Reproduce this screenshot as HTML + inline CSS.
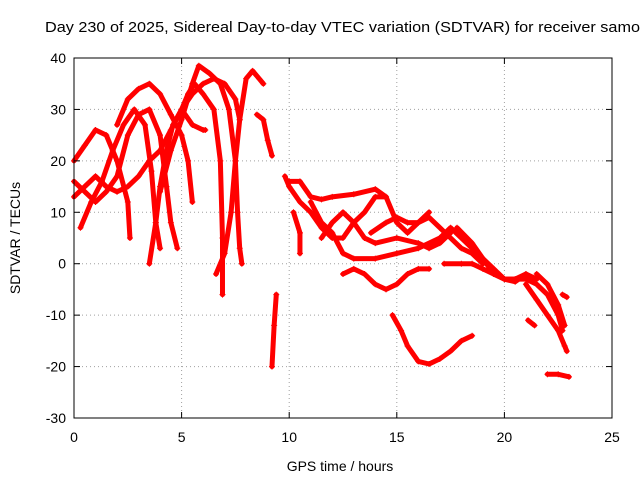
<!DOCTYPE html>
<html><head><meta charset="utf-8"><style>
body{margin:0;background:#fff;}
svg{display:block;font-family:"Liberation Sans",sans-serif;}
</style></head><body>
<svg id="chart" width="640" height="480">
<text x="45" y="32" font-size="15" textLength="595" lengthAdjust="spacingAndGlyphs">Day 230 of 2025, Sidereal Day-to-day VTEC variation (SDTVAR) for receiver samo</text>
<g id="grid"></g>
<g id="series"></g>
<rect x="74" y="58" width="538" height="360" fill="none" stroke="#000" stroke-width="1"/>
<g id="ticks"></g>
<text x="340" y="471" font-size="14" text-anchor="middle">GPS time / hours</text>
<text transform="translate(20,238) rotate(-90)" font-size="14" text-anchor="middle">SDTVAR / TECUs</text>
</svg>
<script>
const xTicks=[0,5,10,15,20,25];
const yTicks=[-30,-20,-10,0,10,20,30,40];
const tracks=[
[[0,20],[0.5,23],[1,26],[1.5,25],[2,20],[2.5,12],[2.6,5]],
[[0,16],[0.5,14],[1,12],[1.5,14],[2,17],[2.5,25],[3,29],[3.5,30],[4,25],[4.3,15],[4.5,8],[4.8,3]],
[[0,13],[0.5,15],[1,17],[1.5,15],[2,14],[2.5,15],[3,17],[3.5,20],[4,22],[4.5,26],[5,30],[5.5,33],[6,35],[6.5,36],[7,35],[7.5,32],[7.7,28]],
[[0.3,7],[0.8,12],[1.3,16],[1.8,22],[2.3,27],[2.8,30],[3.3,27],[3.6,18],[3.8,8],[4,3]],
[[2,27],[2.5,32],[3,34],[3.5,35],[4,33],[4.5,29],[5,25],[5.3,20],[5.5,12]],
[[4,14],[4.5,22],[5,28],[5.5,35],[5.8,38.5],[6.3,37],[6.8,35],[7.2,30],[7.5,20],[7.6,10],[7.7,3],[7.8,0]],
[[6.6,-2],[7,2],[7.3,10],[7.5,20],[7.7,28],[8,36],[8.3,37.5],[8.6,36],[8.8,35]],
[[5,30],[5.5,27],[6,26],[6.1,26]],
[[3.5,0],[3.8,8],[4,15],[4.3,22],[4.6,27],[5,30],[5.3,33],[5.6,35],[6,33],[6.5,30],[6.8,20],[6.9,5],[6.9,-6]],
[[8.5,29],[8.8,28],[9,24],[9.2,21]],
[[9.2,-20],[9.3,-12],[9.4,-6]],
[[9.8,17],[10,15],[10.5,12],[11,10],[11.5,7],[12,5],[12.5,5],[13,8],[13.5,10],[14,13],[14.5,13]],
[[10,16],[10.5,16],[11,13],[11.5,12.5],[12,13],[13,13.5],[14,14.5],[14.5,13],[15,8],[15.5,6],[16,8],[16.5,10]],
[[10.2,10],[10.5,6],[10.5,2]],
[[11,12],[11.5,8],[12,6],[12.5,2],[13,1],[14,1],[15,2],[16,3],[17,5],[17.5,7],[18,5],[18.5,3],[19,1],[19.5,-1],[20,-3],[20.5,-3],[21,-2]],
[[11.5,5],[12,8],[12.5,10],[13,8],[13.5,5],[14,4],[15,5],[16,4],[16.5,3],[17,4],[17.5,6]],
[[12.5,-2],[13,-1],[13.5,-2],[14,-4],[14.5,-5],[15,-4],[15.5,-2],[16,-1],[16.5,-1]],
[[14.8,-10],[15.2,-13],[15.5,-16],[16,-19],[16.5,-19.5],[17,-18.5],[17.5,-17],[18,-15],[18.5,-14]],
[[13.8,6],[14.5,8],[15,9],[15.5,8],[16,8],[16.5,9],[17,7],[17.5,5],[18,3],[18.5,2],[19,0]],
[[17.2,0],[18,0],[18.5,0],[19,-1],[19.5,-2],[20,-3],[20.5,-3.5],[21,-2],[21.5,-3]],
[[17.8,7],[18.5,4],[19,1],[19.5,-2],[20,-3],[21,-3],[21.5,-4],[22,-6],[22.5,-10],[22.7,-13]],
[[21,-4],[21.5,-7],[22,-10],[22.5,-13],[22.8,-16],[22.9,-17]],
[[21.5,-2],[22,-4],[22.5,-8],[22.8,-12]],
[[22,-21.5],[22.5,-21.5],[23,-22]],
[[22.7,-6],[22.9,-6.5]],
[[21.1,-11],[21.4,-12]]
];
const NS='http://www.w3.org/2000/svg';
const X0=74,X1=612,Y0=418,Y1=58;
function sx(v){return X0+(v-0)/(25-0)*(X1-X0);}
function sy(v){return Y0-(v+30)/(70)*(Y0-Y1);}
function mk(t,a){const e=document.createElementNS(NS,t);for(const k in a)e.setAttribute(k,a[k]);return e;}
const grid=document.getElementById('grid'),ticks=document.getElementById('ticks'),ser=document.getElementById('series');
xTicks.forEach(v=>{
 const x=sx(v);
 if(v>0&&v<25){const g=mk('line',{x1:x,x2:x,y1:Y1,y2:Y0,stroke:'#a0a0a0','stroke-dasharray':'1,3'});grid.appendChild(g);}
 const t=mk('line',{x1:x,x2:x,y1:Y0,y2:Y0-6,stroke:'#000'});ticks.appendChild(t);
 const t2=mk('line',{x1:x,x2:x,y1:Y1,y2:Y1+6,stroke:'#000'});ticks.appendChild(t2);
 const l=mk('text',{x:x,y:Y0+24,'font-size':14,'text-anchor':'middle'});l.textContent=v;ticks.appendChild(l);
});
yTicks.forEach(v=>{
 const y=sy(v);
 if(v>-30&&v<40){const g=mk('line',{x1:X0,x2:X1,y1:y,y2:y,stroke:'#a0a0a0','stroke-dasharray':'1,3'});grid.appendChild(g);}
 const t=mk('line',{x1:X0,x2:X0+6,y1:y,y2:y,stroke:'#000'});ticks.appendChild(t);
 const t2=mk('line',{x1:X1,x2:X1-6,y1:y,y2:y,stroke:'#000'});ticks.appendChild(t2);
 const l=mk('text',{x:X0-8,y:y+5,'font-size':14,'text-anchor':'end'});l.textContent=v;ticks.appendChild(l);
});
tracks.forEach(tr=>{
 const p=mk('polyline',{points:tr.map(d=>sx(d[0])+','+sy(d[1])).join(' '),fill:'none',stroke:'#ff0000','stroke-width':5,'stroke-linejoin':'round','stroke-linecap':'round'});
 
 
 ser.appendChild(p);
 tr.forEach(d=>{
  const x=sx(d[0]),y=sy(d[1]);
  const m=mk('path',{d:`M${x-3},${y}H${x+3}M${x},${y-3}V${y+3}`,stroke:'#ff0000','stroke-width':1});
  
  
  ser.appendChild(m);
 });
});
</script>
</body></html>
